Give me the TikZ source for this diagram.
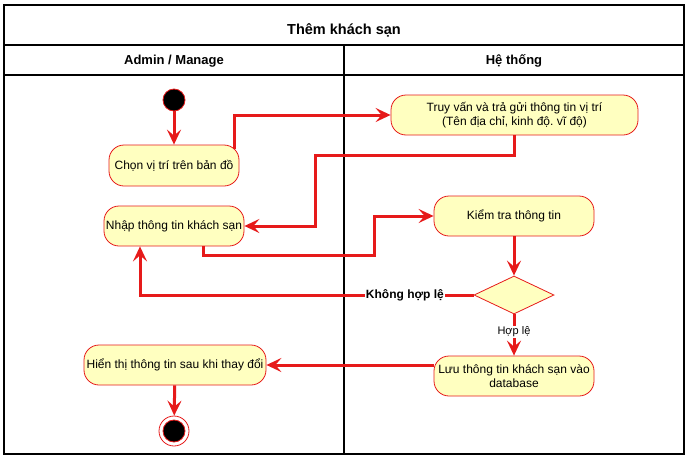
\documentclass[tikz,border=0pt]{standalone}
\usepackage{fontspec}
\setmainfont{Liberation Sans}
\usetikzlibrary{arrows.meta,calc,shapes.geometric}
\definecolor{flowred}{RGB}{230,26,26}
\definecolor{boxfill}{RGB}{255,255,192}
\frenchspacing

\begin{document}
\begin{tikzpicture}[x=1pt,y=-1pt,
		action/.style={draw=flowred,fill=boxfill,rounded corners=15pt,line width=0.8pt,inner sep=0pt,align=center,font=\fontsize{12}{14.4}\selectfont},
		flow/.style={draw=flowred,line width=3pt,-{Stealth[length=15pt,width=14pt,inset=6pt]}},
		lane/.style={line width=2pt},
		guard/.style={fill=white,inner sep=1pt,font=\fontsize{11}{13}\selectfont}]
		\useasboundingbox (0,0) rectangle (689,461);
		% swimlanes
		\draw[line width=1.5pt] (4,5) rectangle (684,454);
		\draw[lane] (4,45) -- (684,45);
		\draw[lane] (4,75) -- (684,75);
		\draw[lane] (344,45) -- (344,454);
		\node (title) at (344,30) {\fontsize{14.5}{17}\selectfont\bfseries Thêm khách sạn};
		\node (admin) at (174,61) {\fontsize{13}{15}\selectfont\bfseries Admin / Manage};
		\node (hethong) at (514,61) {\fontsize{13}{15}\selectfont\bfseries Hệ thống};
		% actions
		\node[circle,fill=black,draw=flowred,line width=0.8pt,minimum size=22pt,inner sep=0pt] (start) at (174,100) {};
		\node[action,minimum width=130pt,minimum height=41pt] (chon) at (174,165.5) {Chọn vị trí trên bản đồ};
		\node[action,minimum width=140pt,minimum height=40pt] (nhap) at (174,226) {Nhập thông tin khách sạn};
		\node[action,minimum width=182pt,minimum height=40pt] (hienthi) at (175,365) {Hiển thị thông tin sau khi thay đổi};
		\node[circle,fill=white,draw=flowred,line width=0.8pt,minimum size=30pt,inner sep=0pt] (stop) at (174,431) {};
		\node[circle,fill=black,draw=flowred,line width=0.8pt,minimum size=22pt,inner sep=0pt] (stopdot) at (stop) {};
		\node[action,minimum width=247pt,minimum height=40pt] (truyvan) at (514.5,115) {Truy vấn và trả gửi thông tin vị trí\\(Tên địa chỉ, kinh độ. vĩ độ)};
		\node[action,minimum width=160pt,minimum height=40pt] (kiemtra) at (514,216) {Kiểm tra thông tin};
		\node[diamond,draw=flowred,fill=boxfill,line width=0.8pt,minimum width=80pt,minimum height=38pt,inner sep=0pt] (check) at (514,295) {};
		\node[action,minimum width=160pt,minimum height=40pt] (luu) at (514,376) {Lưu thông tin khách sạn vào\\database};
		% flows
		\draw[flow] (start) -- (chon);
		\draw[flow] ($(chon.north east)+(-5,4)$) |- (truyvan.west);
		\draw[flow] (truyvan.south) |- (315,155) |- (nhap.east);
		\draw[flow] ($(nhap.south)+(29,0)$) |- (374,255) |- (kiemtra.west);
		\draw[flow] (kiemtra) -- (check);
		\draw[flow] (check.west) -| ($(nhap.south)+(-34,0)$) node[guard,pos=0.103,font=\fontsize{12}{14}\selectfont\bfseries] {Không hợp lệ};
		\draw[flow] (check.south) -- (luu.north) node[guard,pos=0.42] {Hợp lệ};
		\draw[flow] (hienthi.east -| luu.west) -- (hienthi.east);
		\draw[flow] (hienthi) -- (stop);
	\end{tikzpicture}
\end{document}
